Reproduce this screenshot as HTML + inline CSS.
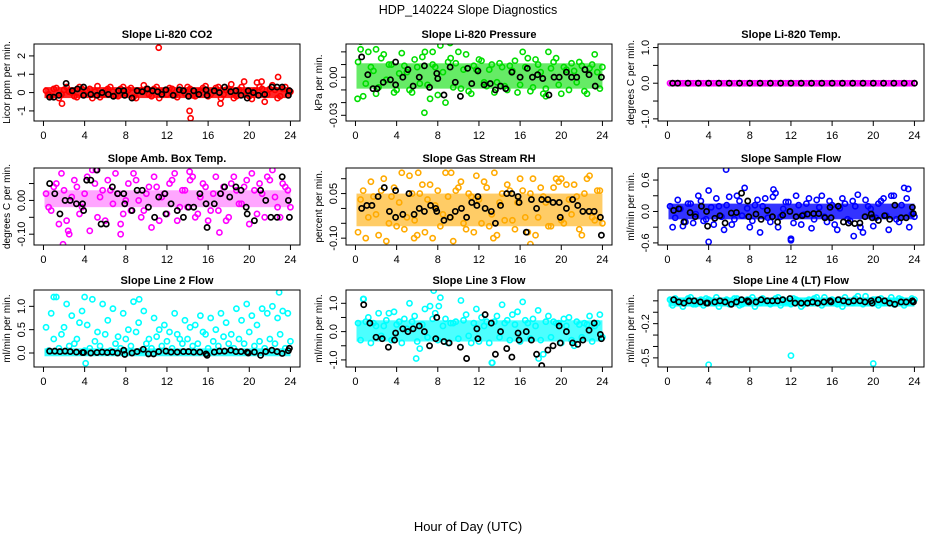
<!DOCTYPE html>
<html><head><meta charset="utf-8"><style>
body{margin:0;background:#fff}
svg{display:block;font-family:"Liberation Sans",sans-serif}
</style></head><body>
<svg id="c" width="936" height="540">
<text x="468" y="14" text-anchor="middle" font-size="12.5">HDP_140224  Slope Diagnostics</text>
<text x="468" y="531" text-anchor="middle" font-size="13">Hour of Day (UTC)</text>
</svg>
<script>
const xTicks=[0,4,8,12,16,20,24];
const titles=["Slope Li-820 CO2","Slope Li-820 Pressure","Slope Li-820 Temp.","Slope Amb. Box Temp.","Slope Gas Stream RH","Slope Sample Flow","Slope Line 2 Flow","Slope Line 3 Flow","Slope Line 4 (LT) Flow"];
const yLabels=["Licor ppm per min.","kPa per min.","degrees C per min.","degrees C per min.","percent per min.","ml/min per min.","ml/min per min.","ml/min per min.","ml/min per min."];
const colors=["#ff0000","#00dd00","#ff00ff","#ff00ff","#ffaa00","#0000ff","#00ffff","#00ffff","#00ffff"];
const yTicks=[[-1,0,1,2],[-0.03,-0.02,-0.01,0,0.01,0.02],[-1,-0.5,0,0.5,1],[-0.1,-0.05,0,0.05],[-0.1,-0.05,0,0.05,0.1],[-0.6,-0.3,0,0.3,0.6],[0,0.5,1],[-1,-0.5,0,0.5,1],[-0.5,-0.4,-0.3,-0.2,-0.1,0]];
const yTickLabels=[["-1","0","1","2"],["-0.03","","","0.00","",""],["-1.0","","0.0","","1.0"],["-0.10","","0.00",""],["-0.10","","","0.05",""],["-0.6","","0.0","","0.6"],["0.0","0.5","1.0"],["-1.0","","0.0","","1.0"],["-0.5","","","-0.2","",""]];
const yDomains=[[-1.55,2.65],[-0.0345,0.0262],[-1.06,1.10],[-0.132,0.096],[-0.123,0.136],[-0.64,0.83],[-0.30,1.35],[-1.25,1.47],[-0.58,0.095]];
const coreLo=[-0.3,-0.009,-0.02,-0.02,-0.06,-0.15,-0.07,-0.35,-0.05];
const coreHi=[0.3,0.011,0.02,0.03,0.05,0.15,0.1,0.4,0.03];
const bandOpacity=[0.85,0.6,0.9,0.35,0.6,0.8,0.8,0.7,0.85];
const colA=[
[0.1,-0.2,0.25,-0.1,0.3,0,-0.25,0.2,0.1,-0.3,0.35,-0.1,0.2,0.05,-0.2,0.3,0.15,-0.25,0.1,0.4,-0.1,0.2,-0.3,0.1,0.25,-0.15,0.3,-0.05,0.2,-0.2,0.1,0.35,-0.1,0.25,-0.3,0.15,0.45,-0.2,0.3,0.05,-0.35,0.55,0.2,-0.1,0.4,-0.3,0.2,0.1],
[0.012,-0.015,0.02,0.005,-0.008,0.018,0.01,-0.012,0.003,0.009,-0.01,0.014,-0.005,0.02,-0.017,0.008,0.025,-0.02,0.015,0.011,-0.009,0.018,-0.013,0.006,0.013,-0.007,0.01,-0.004,0.008,-0.01,0.005,-0.012,0.02,0.015,-0.008,0.01,-0.013,0.02,0.012,-0.006,0.008,-0.01,0.005,0.012,-0.011,0.007,0.018,-0.009],
[0,0,0,0,0,0,0,0,0,0,0,0,0,0,0,0,0,0,0,0,0,0,0,0,0,0,0,0,0,0,0,0,0,0,0,0,0,0,0,0,0,0,0,0,0,0,0,0],
[0.02,-0.03,0.05,0.08,-0.06,0.01,0.04,-0.02,0.07,0.09,-0.05,0.03,0.06,-0.01,0.02,-0.04,0.05,0.08,0.0,-0.03,0.04,0.07,-0.06,0.02,0.05,0.08,-0.02,0.03,0.06,-0.05,0.01,0.04,-0.03,0.07,0.02,-0.06,0.05,0.03,-0.01,0.06,0.08,-0.04,0.02,0.07,0.09,-0.02,0.05,0.03],
[-0.08,0.06,-0.03,0.04,-0.09,0.1,-0.05,0.07,0.02,-0.07,0.11,-0.04,0.05,-0.08,0.08,0.01,-0.06,0.12,-0.03,0.06,0.09,-0.07,0.04,0.11,-0.05,0.07,-0.02,-0.09,0.05,0.08,-0.04,0.02,0.06,-0.08,0.1,-0.03,0.04,-0.06,0.07,0.09,-0.05,0.03,0.08,-0.07,0.05,0.11,-0.04,0.06],
[0.1,-0.12,0.05,-0.2,0.15,-0.05,0.2,-0.15,0.08,0.25,-0.1,0.12,-0.25,0.3,-0.08,0.06,-0.18,0.22,0.1,-0.12,0.28,-0.3,0.05,0.18,-0.22,0.12,-0.06,0.25,-0.15,0.08,-0.1,0.2,-0.25,0.06,0.15,-0.18,0.1,-0.3,0.22,0.05,-0.12,0.2,-0.08,0.3,-0.15,0.12,0.25,-0.05],
[0.55,0.85,1.2,0.4,1.05,0.8,0.3,0.9,0.6,1.15,0.45,1.05,0.7,0.95,0.35,0.85,0.5,1.1,0.65,0.9,0.3,0.75,0.5,0.6,0.45,0.85,0.3,0.7,0.55,0.6,0.8,0.4,0.75,0.5,0.85,0.65,0.4,0.95,0.7,1.05,0.8,0.6,0.95,0.85,1.0,0.75,0.9,0.85],
[0.3,1.15,0.5,0.3,0.65,0.2,0.65,0.7,0.35,0.45,1.0,0.55,-0.6,0.8,0.9,0.65,1.2,0.45,0.3,0.35,1.1,0.6,-0.4,0.8,0.5,0.35,-1.1,0.55,0.95,0.4,0.6,0.7,1.05,0.3,0.45,0.75,-0.8,0.55,0.35,0.3,0.45,0.5,-0.5,0.25,0.3,0.55,0.2,0.6],
[0.01,0.02,-0.02,0.0,0.03,-0.03,0.01,0.02,-0.01,0.03,-0.02,0.01,0.0,0.02,-0.03,0.01,0.03,-0.01,0.02,0.0,-0.02,0.03,0.01,-0.01,0.02,0.0,-0.03,0.01,0.02,-0.01,0.03,0.0,-0.02,0.01,0.03,-0.01,0.02,0.0,0.04,-0.02,0.01,0.02,-0.01,0.03,0.0,0.01,-0.02,0.02]];
const colB=[
[-0.1,0.2,-0.3,0.15,0.05,-0.2,0.3,-0.1,0.2,0.05,-0.25,0.1,0.3,-0.15,0.2,-0.05,0.25,-0.3,0.1,0.2,-0.2,0.3,0.05,-0.1,0.2,-0.25,0.1,0.3,-0.15,0.05,0.25,-0.2,0.1,0.3,-0.1,0.2,-0.3,0.15,0.6,-0.2,0.1,0.3,-0.5,0.2,0.15,-0.2,0.3,0.05],
[0.022,-0.005,0.008,-0.013,0.015,-0.002,0.01,-0.01,0.019,0.004,-0.012,0.008,0.016,-0.006,0.01,-0.014,0.004,0.012,-0.008,0.02,0.006,-0.011,0.009,0.014,-0.004,0.006,-0.012,0.011,-0.007,0.009,0.013,-0.006,0.008,-0.011,0.014,0.004,-0.009,0.007,0.015,-0.013,0.006,0.011,-0.004,0.009,-0.013,0.01,0.004,0.008],
[0,0,0,0,0,0,0,0,0,0,0,0,0,0,0,0,0,0,0,0,0,0,0,0,0,0,0,0,0,0,0,0,0,0,0,0,0,0,0,0,0,0,0,0,0,0,0,0],
[-0.02,0.04,-0.07,0.03,-0.1,0.06,-0.04,0.02,-0.09,0.05,0.01,-0.06,0.03,0.08,-0.07,0.0,-0.03,0.06,-0.05,0.02,-0.08,0.04,0.01,-0.04,0.06,-0.06,0.03,-0.02,0.07,-0.04,0.05,-0.06,0.02,-0.03,0.04,-0.05,0.07,-0.01,0.04,-0.07,0.03,0.05,-0.05,0.06,0.01,-0.05,0.04,-0.02],
[0.03,-0.1,0.09,-0.02,0.06,-0.11,0.04,-0.06,0.12,-0.03,0.05,-0.09,0.08,0.03,-0.1,0.06,-0.02,0.04,-0.11,0.07,-0.05,0.05,-0.08,0.03,0.09,-0.06,0.12,0.02,-0.04,0.06,-0.07,0.1,-0.03,0.05,-0.09,0.07,0.02,-0.06,0.1,-0.04,0.08,-0.02,0.04,-0.09,0.1,-0.03,0.06,-0.05],
[-0.3,0.22,-0.28,0.15,-0.22,0.3,-0.18,0.4,-0.25,0.1,-0.35,0.28,-0.15,0.2,0.45,-0.3,0.12,-0.4,0.25,-0.2,0.35,-0.1,0.18,-0.55,0.3,-0.25,0.15,-0.32,0.22,0.3,-0.2,0.12,-0.35,0.25,-0.15,0.2,0.32,-0.4,0.1,-0.28,0.15,0.25,-0.35,0.3,-0.2,0.45,-0.3,-0.1],
[0.05,0.3,0.1,0.55,0.15,0.2,0.65,0.05,0.1,0.25,0.15,0.4,0.05,0.2,0.1,0.3,0.15,0.45,0.05,0.2,0.1,0.35,0.15,0.25,0.1,0.4,0.2,0.3,0.15,0.2,0.45,0.1,0.25,0.15,0.35,0.2,0.1,0.3,0.2,0.45,0.15,0.25,0.1,0.3,0.2,0.4,0.1,0.25],
[-0.3,0.35,-0.4,0.2,-0.15,0.4,-0.3,0.25,-0.4,0.1,0.35,-0.35,0.25,-0.2,0.45,-0.3,0.2,-0.4,0.3,-0.25,0.4,-0.15,0.3,-0.35,0.2,-0.4,0.35,-0.2,0.3,-0.3,0.25,-0.35,0.4,-0.25,0.2,-0.3,0.35,-0.2,0.3,-0.4,0.2,-0.3,0.35,-0.2,0.25,-0.35,0.3,-0.2],
[-0.04,0.0,-0.05,0.02,-0.03,-0.01,-0.04,0.01,-0.02,-0.05,0.0,-0.03,0.02,-0.04,-0.01,0.01,-0.05,-0.02,0.0,-0.03,0.02,-0.04,-0.01,-0.03,0.01,-0.05,0.0,-0.02,0.03,-0.04,-0.01,0.01,-0.03,-0.05,0.0,-0.02,0.04,-0.03,-0.01,0.01,-0.04,-0.02,0.0,-0.03,0.02,-0.04,-0.01,0.01]];
const outliers=[
[[11.2,2.45],[14.2,-1.0],[14.3,-1.4],[22.8,0.85],[1.8,-0.6],[17.2,-0.6],[21.2,0.6]],
[[0.2,-0.017],[0.5,0.028],[2.0,0.022],[6.7,-0.028],[8,-0.037],[9.2,0.027],[16,-0.038],[24,-0.037],[18.5,-0.015],[7.5,0.02]],
[],
[[1.9,-0.13],[7.5,-0.1],[2.4,-0.09],[17.1,-0.095],[5.1,0.09],[14.2,0.085]],
[[6.1,0.12],[17,-0.12],[13.4,-0.1],[5.7,-0.1],[9.3,0.12],[20,0.1]],
[[5.7,0.8],[4,-0.58],[12,-0.52],[18.1,-0.47],[10.3,0.42],[23.4,0.43]],
[[4.1,-0.22],[22.9,1.3],[1,1.2],[4,1.2],[9.3,1.15]],
[[7.6,1.45],[13.3,-1.1],[17.8,-0.95],[5.9,-0.95],[0.8,1.15],[8.1,0.9]],
[[4,-0.56],[12,-0.48],[20,-0.55]]];
const blackX=[
[0.6,1.0,1.5,2.2,2.8,3.3,3.9,3.9,4.6,5.2,5.7,6.3,6.8,7.3,7.8,7.9,8.6,9.1,9.6,10.1,10.6,11.1,11.5,11.9,12.6,13.2,13.6,14.1,14.6,15.1,15.8,15.9,16.6,17.1,17.6,18.2,18.7,19.2,19.8,19.9,20.4,20.9,21.5,22.2,22.7,23.2,23.8,23.9],
[0.6,1.2,1.7,2.1,2.7,3.4,3.9,3.9,4.6,5.1,5.6,6.2,6.7,7.2,7.9,8,8.6,9.2,9.7,10.2,10.9,11.3,11.9,12.5,13.1,13.6,14.1,14.6,15.2,16,16.7,17.2,17.7,18.2,18.8,19.3,19.8,20.5,21,21.5,22.3,22.7,23.3,23.9],
[0.5,1,2,3,4,5,6,7,8,9,10,11,12,13,14,15,16,17,18,19,20,21,22,23,24],
[0.6,1.1,1.6,2.1,2.6,3.2,3.8,3.9,4.2,4.6,5.2,5.6,6.1,6.7,7.2,7.8,7.9,8.6,9.1,9.6,10.2,10.8,11.2,11.8,11.9,12.4,13,13.6,14.1,14.6,15.2,15.8,15.9,16.6,17.2,17.6,18.1,18.7,19.2,19.7,19.8,20.5,21.1,21.6,22.1,22.7,23.2,23.8,23.9],
[0.6,1.1,1.6,2.2,2.8,3.3,3.9,3.9,4.6,5.2,5.7,6.2,6.7,7.3,7.8,7.9,8.6,9.2,9.7,10.3,10.8,11.3,11.8,11.9,12.6,13.2,13.6,14.1,14.7,15.2,15.8,15.9,16.6,17.1,17.6,18.1,18.7,19.2,19.8,19.9,20.5,21.1,21.6,22.1,22.7,23.2,23.8,23.9],
[0.6,1.1,1.6,2.2,2.7,3.3,3.8,3.9,4.6,5.1,5.6,6.2,6.7,7.2,7.8,7.9,8.6,9.1,9.7,10.2,10.7,11.2,11.9,12.5,13.1,13.6,14.2,14.7,15.3,15.8,15.9,16.6,17.1,17.6,18.2,18.7,19.2,19.8,19.9,20.5,21.1,21.6,22.1,22.7,23.2,23.8,23.9],
[0.6,1.1,1.6,2.1,2.6,3.2,3.8,3.9,4.6,5.2,5.7,6.2,6.7,7.2,7.8,7.9,8.6,9.1,9.7,10.2,10.7,11.2,11.9,12.4,13,13.6,14.1,14.6,15.2,15.8,15.9,16.6,17.1,17.6,18.2,18.7,19.2,19.8,19.9,20.5,21.1,21.6,22.2,22.7,23.2,23.8,23.9],
[0.8,1.4,2,2.6,3.2,3.8,3.9,4.6,5.1,5.6,6.2,6.7,7.2,7.8,7.9,8.6,9.1,10.2,10.8,11.8,11.9,12.6,13.2,13.6,14.1,14.7,15.2,15.8,15.9,16.6,17.1,17.6,18.1,18.7,19.2,19.8,19.9,20.5,21.1,21.6,22.1,22.7,23.2,23.8,23.9],
[0.6,1.1,1.6,2.1,2.6,3.2,3.8,3.9,4.6,5.1,5.6,6.2,6.7,7.2,7.8,7.9,8.6,9.1,9.7,10.2,10.7,11.2,11.9,12.4,13,13.6,14.1,14.6,15.2,15.8,15.9,16.6,17.1,17.6,18.1,18.7,19.2,19.8,19.9,20.5,21.1,21.6,22.1,22.7,23.2,23.8,23.9]];
const blackY=[
[-0.25,-0.25,-0.15,0.5,0.1,0.2,0.3,-0.15,-0.1,-0.15,0,-0.1,-0.2,0.1,0.1,-0.15,-0.3,0.1,0.05,0.2,0.1,0.05,-0.1,0.15,-0.15,0.15,0.1,-0.2,0.1,-0.1,0.15,-0.15,0.1,0,0.3,0.05,0.1,-0.15,-0.3,0.1,0,-0.15,-0.1,0.3,0.3,0.3,-0.15,0.1],
[0.016,0.002,-0.009,-0.009,-0.004,-0.002,0.012,-0.006,0,0.006,-0.007,0,0.009,-0.008,0.003,-0.001,-0.014,0.008,-0.004,-0.015,0.007,-0.005,0.005,-0.006,-0.005,-0.01,-0.007,-0.009,0.004,0,0.007,0,0.002,-0.001,-0.014,0,0,0.004,0,0,0.006,0.002,-0.007,0],
[0,0,0,0,0,0,0,0,0,0,0,0,0,0,0,0,0,0,0,0,0,0,0,0,0],
[0.05,0.02,-0.04,0.0,0.0,-0.01,-0.01,-0.03,0.06,0.06,0.09,-0.07,-0.07,0.04,0.02,0.02,-0.01,-0.03,0.03,0.03,-0.02,-0.05,0.01,0.02,-0.04,-0.01,-0.03,-0.05,-0.02,-0.02,0.02,-0.01,-0.08,-0.01,0.02,0.04,0.01,0.04,0.03,-0.02,-0.04,-0.06,0.03,0.0,-0.05,-0.05,0.07,0.0,-0.05],
[0.0,0.01,0.01,0.04,0.07,-0.01,0.06,-0.03,-0.02,0.05,-0.02,0.0,-0.01,0.01,0.0,-0.01,-0.04,-0.03,-0.01,0.0,-0.03,0.02,0.01,0.04,0.0,-0.01,-0.05,0.01,0.05,0.05,0.04,0.02,-0.08,0.03,0.0,0.03,0.03,0.02,0.02,-0.03,0.0,0.03,0.01,-0.01,-0.01,-0.01,-0.03,-0.09,-0.02],
[0.02,0.05,-0.2,-0.02,-0.1,0.1,0.0,-0.28,-0.13,-0.08,-0.22,-0.03,-0.02,0.35,0.2,-0.1,-0.05,-0.15,0.02,-0.1,-0.2,-0.07,0.0,-0.1,-0.08,-0.05,-0.04,-0.04,-0.12,0.08,-0.12,0.1,-0.2,-0.22,-0.23,-0.22,-0.1,-0.05,-0.12,-0.17,-0.08,-0.15,0.12,-0.12,-0.12,0.08,-0.04],
[0.04,0.04,0.03,0.04,0.03,0.02,0.01,0.01,0.0,0.01,0.02,0.01,0.02,0.0,0.06,-0.03,0.0,0.03,0.08,-0.02,-0.02,0.03,0.04,0.02,0.02,0.03,0.03,0.02,0.02,-0.02,-0.05,0.02,0.04,0.04,0.06,0.03,0.03,0.02,0.0,0.02,-0.05,0.03,0.06,0.03,-0.01,0.05,0.1],
[0.95,0.3,-0.2,-0.25,-0.55,-0.3,-0.05,0.1,0.0,0.1,0.2,0.0,-0.5,-0.25,0.5,-0.35,-0.4,-0.55,-0.95,0.1,-0.25,0.6,0.3,-0.8,0.0,-0.6,-0.9,-0.05,-0.3,0.0,-0.3,-0.8,-1.2,-0.65,-0.5,0.2,-0.4,0.0,-0.4,-0.45,-0.3,0.05,0.3,-0.1,-0.25],
[0.01,-0.01,-0.02,0.0,0.0,-0.01,-0.02,-0.02,-0.01,0.0,-0.01,-0.03,-0.01,0.01,0.0,-0.01,-0.01,0.01,0.0,0.0,0.0,0.01,0.02,-0.02,-0.02,-0.02,-0.01,-0.02,-0.01,0.0,-0.01,0.01,0.0,-0.01,0.0,0.0,-0.01,0.0,-0.02,0.01,0.0,-0.02,-0.03,-0.01,-0.01,0.0,-0.01]];

const NS="http://www.w3.org/2000/svg";
const svg=document.getElementById('c');
const colLeft=[34,346,658], rowTop=[44,168,290], W=266, H=77;
const xDom=[-0.92,24.93];
function mk(tag,attrs,parent){const e=document.createElementNS(NS,tag);for(const k in attrs)e.setAttribute(k,attrs[k]);parent.appendChild(e);return e;}
for(let p=0;p<9;p++){
  const L=colLeft[p%3], T=rowTop[Math.floor(p/3)];
  const [y0,y1]=yDomains[p];
  const sx=v=>L+(v-xDom[0])/(xDom[1]-xDom[0])*W;
  const sy=v=>T+H-(v-y0)/(y1-y0)*H;
  const g=mk('g',{},svg);
  
  
  const clip=mk('clipPath',{id:'cl'+p},g);
  mk('rect',{x:L,y:T,width:W,height:H},clip);
  const plot=mk('g',{'clip-path':'url(#cl'+p+')'},g);
  
  
  const col=colors[p];
  const band=mk('rect',{x:sx(0.1),y:sy(coreHi[p]),width:sx(24)-sx(0.1),height:Math.max(2,sy(coreLo[p])-sy(coreHi[p])),fill:col,opacity:bandOpacity[p]},plot);
  
  
  const n=colA[p].length;
  for(let i=0;i<n;i++){
    const x=0.25+i*0.5;
    const a=mk('circle',{cx:sx(x),cy:sy(colA[p][i]),r:2.6,fill:'none',stroke:col,'stroke-width':1.6},plot);
    
    
    const b=mk('circle',{cx:sx(x+0.25),cy:sy(colB[p][i]),r:2.6,fill:'none',stroke:col,'stroke-width':1.6},plot);
    
    
  }
  outliers[p].forEach(o=>{
    const c=mk('circle',{cx:sx(o[0]),cy:sy(o[1]),r:2.6,fill:'none',stroke:col,'stroke-width':1.6},plot);
    
    
  });
  for(let i=0;i<blackX[p].length && i<blackY[p].length;i++){
    const c=mk('circle',{cx:sx(blackX[p][i]),cy:sy(blackY[p][i]),r:2.6,fill:'none',stroke:'#000','stroke-width':1.7},plot);
    
    
  }
  const box=mk('rect',{x:L,y:T,width:W,height:H,fill:'none',stroke:'#000','stroke-width':1},g);
  
  
  xTicks.forEach(t=>{
    mk('line',{x1:sx(t),x2:sx(t),y1:T+H,y2:T+H+5,stroke:'#000'},g);
    const tx=mk('text',{x:sx(t),y:T+H+18,'text-anchor':'middle','font-size':11},g);
    tx.textContent=t;
    
    
  });
  yTicks[p].forEach((t,i)=>{
    const y=sy(t);
    mk('line',{x1:L-5,x2:L,y1:y,y2:y,stroke:'#000'},g);
    const lab=yTickLabels[p][i];
    if(lab){
      const tx=mk('text',{x:L-9,y:y,'text-anchor':'middle','font-size':11,transform:`rotate(-90 ${L-9} ${y})`},g);
      tx.textContent=lab;
      
      
    }
  });
  const ti=mk('text',{x:L+W/2,y:T-6,'text-anchor':'middle','font-size':11,'font-weight':'bold'},g);
  ti.textContent=titles[p];
  
  
  const yl=mk('text',{x:L-24,y:T+H/2,'text-anchor':'middle','font-size':10,transform:`rotate(-90 ${L-24} ${T+H/2})`},g);
  yl.textContent=yLabels[p];
  
  
}
</script>
</body></html>
